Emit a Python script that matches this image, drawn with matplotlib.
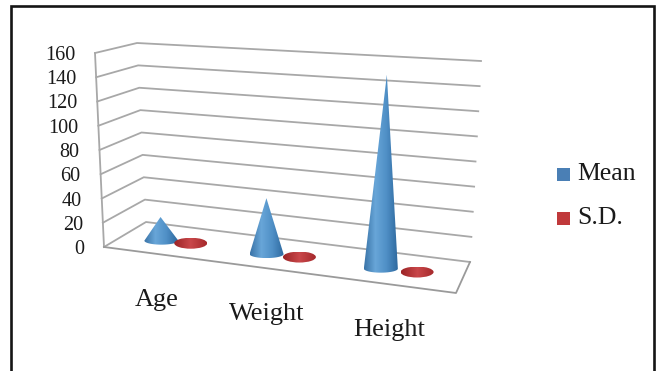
import numpy as np
import matplotlib
matplotlib.use("Agg")
import matplotlib.pyplot as plt
from matplotlib.colors import LinearSegmentedColormap
from matplotlib.patches import Ellipse, Polygon, Rectangle

categories = ["Age", "Weight", "Height"]
mean_values = [20, 46, 155]
sd_values = [1, 1, 1]
y_ticks = [0, 20, 40, 60, 80, 100, 120, 140, 160]
series_names = ["Mean", "S.D."]

BLUE = "#4a7fb5"
RED = "#c0393b"
GRID = "#a8a8a8"
SERIF = "Liberation Serif"

# pixel corners of the 3d box, at value 0 and at value 160
FRONT_LEFT = np.array([[104, 247], [95, 53]], dtype=float)
BACK_LEFT = np.array([[146, 222], [137, 43]], dtype=float)
BACK_RIGHT = np.array([[470, 262], [481, 61]], dtype=float)
FRONT_RIGHT = np.array([[456, 293], [467, 86]], dtype=float)
Y_MAX = 160.0

# the categories are not evenly spaced once seen in perspective
CONE_U = [0.34, 1.27, 2.28]
DISC_U = [0.60, 1.56, 2.60]
LABEL_U = [0.45, 1.39, 2.43]

cone_map = LinearSegmentedColormap.from_list("cone", ["#3a74a8", "#68a6d8", "#4f8fc6", "#2f6a9f"])
disc_map = LinearSegmentedColormap.from_list("disc", ["#9c2426", "#c9474a", "#a62a2c"])


def project(u, depth, value):
    # u runs 0-3 along the categories, depth 0 is front and 1 is back
    t = value / Y_MAX
    fl = FRONT_LEFT[0] + (FRONT_LEFT[1] - FRONT_LEFT[0]) * t
    bl = BACK_LEFT[0] + (BACK_LEFT[1] - BACK_LEFT[0]) * t
    br = BACK_RIGHT[0] + (BACK_RIGHT[1] - BACK_RIGHT[0]) * t
    fr = FRONT_RIGHT[0] + (FRONT_RIGHT[1] - FRONT_RIGHT[0]) * t
    left = fl + (bl - fl) * depth
    right = fr + (br - fr) * depth
    return left + (right - left) * u / 3.0


def gradient_fill(ax, patch, cmap, x0, x1, y0, y1, zorder):
    patch.set_facecolor("none")
    patch.set_edgecolor("none")
    ax.add_patch(patch)
    img = ax.imshow(
        np.linspace(0, 1, 64).reshape(1, -1),
        cmap=cmap,
        extent=[x0, x1, y1, y0],
        aspect="auto",
        zorder=zorder,
    )
    img.set_clip_path(patch)


def draw_cone(ax, u, value, half_width=17, ry=4):
    bx, by = project(u, 0.45, 0)
    tx, ty = project(u, 0.45, value)
    theta = np.linspace(0, np.pi, 30)
    outline = [(tx, ty)]
    outline += [(bx + half_width * np.cos(a), by + ry * np.sin(a)) for a in theta]
    cone = Polygon(outline, closed=True)
    gradient_fill(ax, cone, cone_map, bx - half_width, bx + half_width, ty, by + ry, 4)


def draw_disc(ax, u, value, rx=16.5, ry=5.5):
    bx, by = project(u, 0.45, value)
    disc = Ellipse((bx, by), rx * 2, ry * 2)
    gradient_fill(ax, disc, disc_map, bx - rx, bx + rx, by - ry, by + ry, 4)


fig = plt.figure(figsize=(6.57, 3.71), dpi=100)
ax = fig.add_axes([0, 0, 1, 1])
ax.set_axis_off()

# frame of the pasted picture, it runs off the bottom
ax.plot([10.5, 10.5, 654, 654], [371, 5.5, 5.5, 371], color="#151515", lw=1.9, solid_joinstyle="miter")

# gridlines on both walls
for v in y_ticks:
    pts = np.array([project(0, 0, v), project(0, 1, v), project(3, 1, v)])
    ax.plot(pts[:, 0], pts[:, 1], color=GRID, lw=1.3, zorder=1)
    fx, fy = project(0, 0, v)
    ax.text(fx - 20, fy + 2.5, str(v), ha="right", va="center", family=SERIF, fontsize=14.5, color="#1a1a1a")

side = np.array([project(0, 0, 0), project(0, 0, Y_MAX)])
ax.plot(side[:, 0], side[:, 1], color=GRID, lw=1.3, zorder=1)

# floor
floor = np.array([project(0, 0, 0), project(3, 0, 0), project(3, 1, 0)])
ax.plot(floor[:, 0], floor[:, 1], color="#9a9a9a", lw=1.3, zorder=2)

for i, cat in enumerate(categories):
    draw_cone(ax, CONE_U[i], mean_values[i])
    draw_disc(ax, DISC_U[i], sd_values[i])
    lx, ly = project(LABEL_U[i], 0, 0)
    ax.text(lx, ly + 46, cat, ha="center", va="center", family=SERIF, fontsize=19, color="#1a1a1a")

# legend
for name, col, ly in zip(series_names, [BLUE, RED], [174, 218]):
    ax.add_patch(Rectangle((557, ly - 6.5), 13, 13, facecolor=col, edgecolor="none"))
    ax.text(577, ly, name, ha="left", va="center", family=SERIF, fontsize=18.5, color="#1a1a1a")

ax.set_xlim(0, 657)
ax.set_ylim(371, 0)
fig.savefig("out.png", dpi=100)
